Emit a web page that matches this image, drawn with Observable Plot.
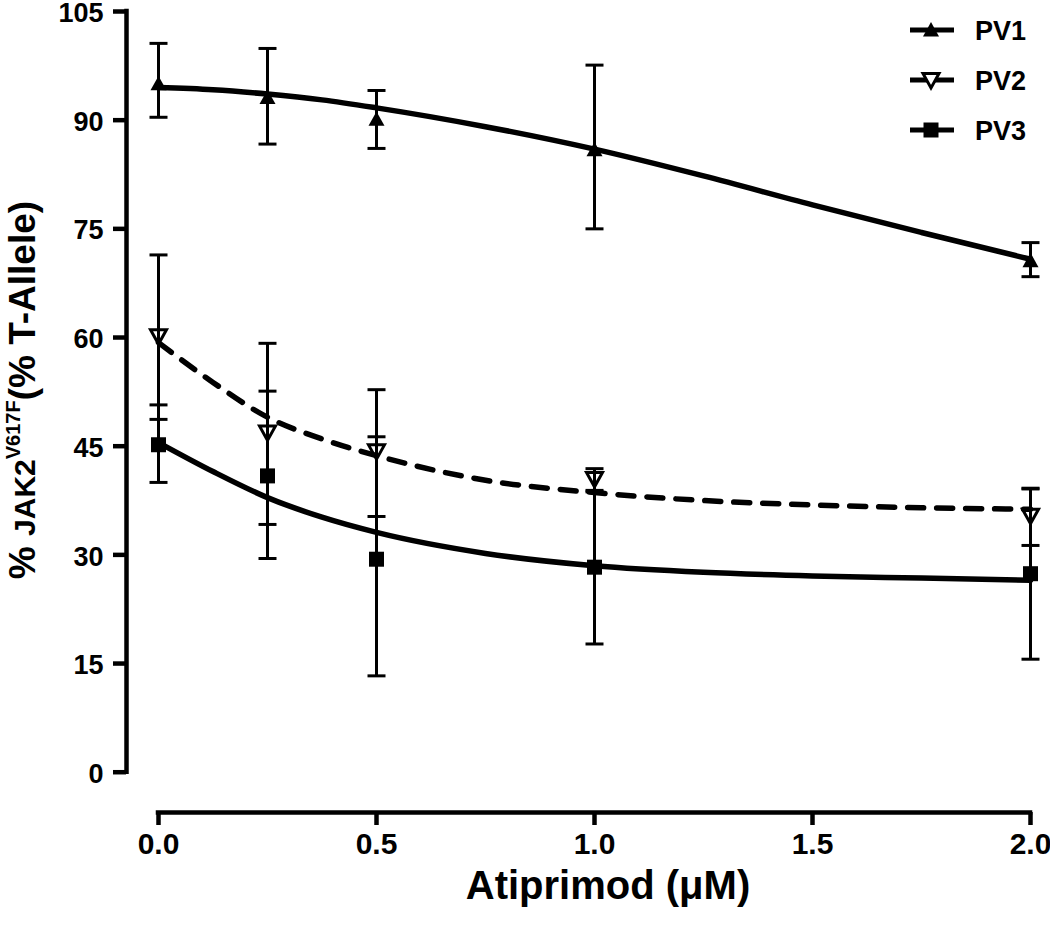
<!DOCTYPE html>
<html><head><meta charset="utf-8">
<script src="https://cdn.jsdelivr.net/npm/d3@7"></script>
<script src="https://cdn.jsdelivr.net/npm/@observablehq/plot@0.6"></script>
<style>
body{margin:0;background:#fff}
svg{font-family:"Liberation Sans",Arial,Helvetica,sans-serif}
</style>
</head><body><div id="chart"></div>
<script>
// ---- data ----
const doses = [0, 0.25, 0.5, 1.0, 2.0];
const pv1Mean = [95.0, 93.1, 90.1, 85.9, 70.6];
const pv1Low  = [90.4, 86.7, 86.1, 75.0, 68.4];
const pv1High = [100.6, 99.9, 94.1, 97.6, 73.1];
const pv2Mean = [60.2, 46.9, 44.3, 40.5, 35.4];
const pv2Low  = [48.7, 34.2, 35.3, 38.7, 31.3];
const pv2High = [71.4, 59.2, 52.8, 41.9, 39.1];
const pv3Mean = [45.2, 40.9, 29.4, 28.3, 27.4];
const pv3Low  = [40.0, 29.5, 13.3, 17.7, 15.6];
const pv3High = [50.7, 52.6, 46.3, 38.9, 39.2];
// fitted curves
const fitDoses = [0, 0.125, 0.25, 0.375, 0.5, 0.75, 1.0, 1.25, 1.5, 1.75, 2.0];
const pv1Fit = [94.5, 94.2, 93.6, 92.8, 91.7, 89.1, 86.0, 82.3, 78.3, 74.5, 70.8];
const pv2Fit = [59.3, 53.8, 49.0, 46.0, 43.7, 40.3, 38.6, 37.5, 36.9, 36.5, 36.3];
const pv3Fit = [45.5, 41.5, 37.9, 35.2, 33.1, 30.2, 28.5, 27.6, 27.1, 26.8, 26.5];
const seriesNames = ["PV1", "PV2", "PV3"];
const yTicks = [0, 15, 30, 45, 60, 75, 90, 105];
const xTicks = [0, 0.5, 1.0, 1.5, 2.0];

// ---- build tables ----
const means = [pv1Mean, pv2Mean, pv3Mean], lows = [pv1Low, pv2Low, pv3Low], highs = [pv1High, pv2High, pv3High];
const fits = [pv1Fit, pv2Fit, pv3Fit];
const pts = [], fitRows = [];
seriesNames.forEach((s, k) => {
  doses.forEach((d, i) => pts.push({series: s, x: d, y: means[k][i], lo: lows[k][i], hi: highs[k][i]}));
  fitDoses.forEach((d, i) => fitRows.push({series: s, x: d, y: fits[k][i]}));
});
const caps = pts.flatMap(p => [{x: p.x, y: p.lo}, {x: p.x, y: p.hi}]);

// custom symbols
const rOf = size => Math.sqrt(size / Math.PI);
const capSym = {draw(c, size){const r = rOf(size); c.moveTo(-r, 0); c.lineTo(r, 0);}};
const triUp = {draw(c, size){const r = rOf(size); c.moveTo(0, -r); c.lineTo(r, 0.8*r); c.lineTo(-r, 0.8*r); c.closePath();}};
const triDown = {draw(c, size){const r = rOf(size); c.moveTo(-r, -0.8*r); c.lineTo(r, -0.8*r); c.lineTo(0, r); c.closePath();}};
const sq = {draw(c, size){const r = rOf(size); c.rect(-r, -r, 2*r, 2*r);}};

const xDom = [-0.0734, 2.0], yDom = [-5.56, 105];
const font = '"Liberation Sans", Arial, Helvetica, sans-serif';

const plot = Plot.plot({
  width: 1050, height: 930,
  marginLeft: 126, marginRight: 20, marginTop: 11, marginBottom: 118,
  x: {domain: xDom}, y: {domain: yDom},
  style: {fontFamily: font, background: "white", color: "black", overflow: "visible"},
  marks: [
    Plot.axisY(yTicks, {anchor: "left", tickSize: 13, strokeWidth: 4.5, tickFormat: () => "", label: null}),
    Plot.axisY(yTicks, {anchor: "left", tickSize: 0, tickPadding: 23, fontSize: 27, fontWeight: "bold", dy: 2, label: null}),
    Plot.axisX(xTicks, {anchor: "bottom", tickSize: 13, strokeWidth: 4.5, tickPadding: 7, fontSize: 30, fontWeight: "bold", tickFormat: d3.format(".1f"), label: null}),
    Plot.ruleX([xDom[0]], {y1: 0, y2: 105, strokeWidth: 4.5, strokeLinecap: "square"}),
    Plot.ruleY([yDom[0]], {x1: 0, x2: 2, strokeWidth: 4.5, strokeLinecap: "square"}),
    // fitted curves
    Plot.line(fitRows.filter(d => d.series === "PV1"), {x: "x", y: "y", curve: "monotone-x", stroke: "black", strokeWidth: 5.5}),
    Plot.line(fitRows.filter(d => d.series === "PV2"), {x: "x", y: "y", curve: "monotone-x", stroke: "black", strokeWidth: 5.5, strokeDasharray: "16,13", strokeLinecap: "round"}),
    Plot.line(fitRows.filter(d => d.series === "PV3"), {x: "x", y: "y", curve: "monotone-x", stroke: "black", strokeWidth: 5.5}),
    // error bars
    Plot.ruleX(pts, {x: "x", y1: "lo", y2: "hi", stroke: "black", strokeWidth: 3}),
    Plot.dot(caps, {x: "x", y: "y", symbol: capSym, r: 9, stroke: "black", strokeWidth: 3, fill: "none"}),
    // markers
    Plot.dot(pts.filter(d => d.series === "PV1"), {x: "x", y: "y", symbol: triUp, r: 8, fill: "black", stroke: "none"}),
    Plot.dot(pts.filter(d => d.series === "PV2"), {x: "x", y: "y", symbol: triDown, r: 8, fill: "none", stroke: "black", strokeWidth: 3}),
    Plot.dot(pts.filter(d => d.series === "PV3"), {x: "x", y: "y", symbol: sq, r: 7.5, fill: "black", stroke: "none"})
  ]
});
document.getElementById("chart").appendChild(plot);

// ---- titles and legend ----
const svg = d3.select(plot);
const yt = svg.append("text")
  .attr("transform", "translate(35,390) rotate(-90)")
  .attr("text-anchor", "middle")
  .attr("font-weight", "bold").attr("fill", "black");
yt.append("tspan").attr("font-size", 37).text("% ");
yt.append("tspan").attr("font-size", 30).text("JAK2");
yt.append("tspan").attr("font-size", 20).attr("dy", -15).text("V617F");
yt.append("tspan").attr("font-size", 37).attr("dy", 15).text("(% T-Allele)");

svg.append("text")
  .attr("x", 608).attr("y", 899)
  .attr("text-anchor", "middle")
  .attr("font-size", 40).attr("font-weight", "bold")
  .text("Atiprimod (\u03bcM)");

const legSyms = [triUp, triDown, sq];
const legY = [30, 80, 130];
seriesNames.forEach((s, i) => {
  const g = svg.append("g").attr("transform", `translate(0,${legY[i]})`);
  g.append("line").attr("x1", 910).attr("x2", 954).attr("y1", 0).attr("y2", 0)
    .attr("stroke", "black").attr("stroke-width", 5);
  const p = d3.path();
  legSyms[i].draw(p, Math.PI * (i === 2 ? 7.5 * 7.5 : 8 * 8));
  g.append("path").attr("d", p.toString()).attr("transform", "translate(931,0)")
    .attr("fill", i === 1 ? "white" : "black").attr("stroke", i === 1 ? "black" : "none").attr("stroke-width", 3);
  g.append("text").attr("x", 975).attr("y", 0).attr("dy", "0.36em")
    .attr("text-anchor", "start")
    .attr("font-size", 27).attr("font-weight", "bold").text(s);
});
</script>
</body></html>
